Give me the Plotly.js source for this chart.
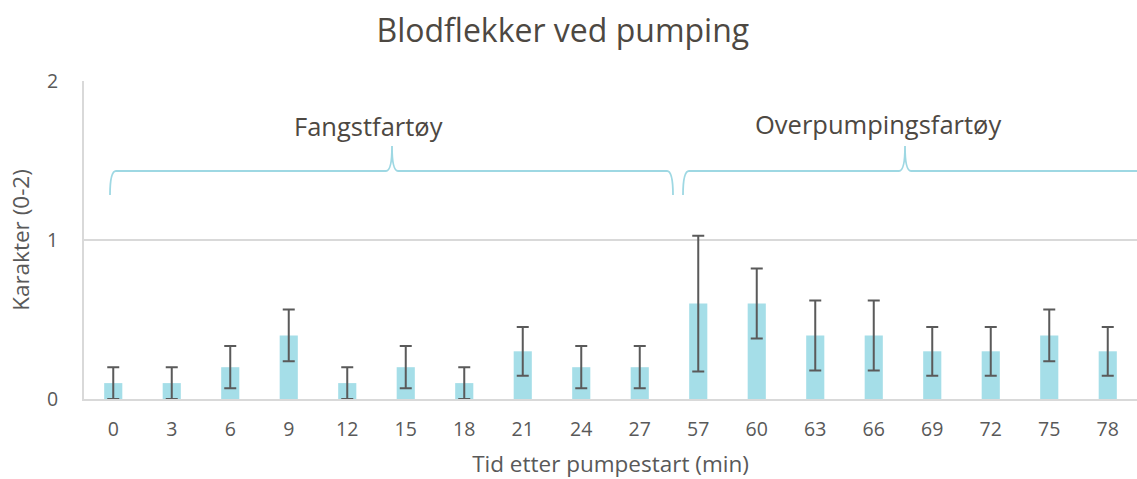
<!DOCTYPE html>
<html>
<head>
<meta charset="utf-8">
<script src="https://cdn.plot.ly/plotly-3.0.1.min.js"></script>
<style>html,body{margin:0;padding:0;background:#fff;}#chart{width:1137px;height:479px;}</style>
</head>
<body>
<div id="chart"></div>
<script>
const categories = ["0","3","6","9","12","15","18","21","24","27","57","60","63","66","69","72","75","78"];
const values = [0.1,0.1,0.2,0.4,0.1,0.2,0.1,0.3,0.2,0.2,0.6,0.6,0.4,0.4,0.3,0.3,0.4,0.3];
const errors = [0.1,0.1,0.133,0.163,0.1,0.133,0.1,0.153,0.133,0.133,0.427,0.22,0.22,0.22,0.153,0.153,0.163,0.153];
const groupLabels = ["Fangstfartøy","Overpumpingsfartøy"];

const W = 1137, H = 479, L = 84, R = 0, T = 81, B = 80;
const pw = W - L - R, ph = H - T - B;
const px = p => (p - L) / pw;            // pixel -> paper x
const py = p => 2 * (H - B - p) / ph;     // pixel -> data y

const braceColor = "#9ed8e3";
const font = "'Open Sans', sans-serif";

const trace = {
  type: "bar",
  x: categories,
  y: values,
  marker: {color: "#a5dee8"},
  error_y: {type: "data", array: errors, visible: true, color: "#5a5a5a", thickness: 2, width: 6},
  hoverinfo: "x+y"
};

function mkPath(x0, xm, x1) {
  const yEnd = 195, yLine = 171, yPeak = 146, r = 6;
  const P = (x, y) => px(x).toFixed(5) + "," + py(y).toFixed(5);
  return "M" + P(x0, yEnd) +
    " Q" + P(x0, yLine) + " " + P(x0 + r, yLine) +
    " L" + P(xm - r, yLine) +
    " Q" + P(xm, yLine) + " " + P(xm, yPeak) +
    " Q" + P(xm, yLine) + " " + P(xm + r, yLine) +
    " L" + P(x1 - r, yLine) +
    " Q" + P(x1, yLine) + " " + P(x1, yEnd);
}

const layout = {
  width: W, height: H,
  margin: {l: L, r: R, t: T, b: B},
  paper_bgcolor: "#fff", plot_bgcolor: "#fff",
  bargap: 0.69,
  showlegend: false,
  font: {family: font, color: "#595959", size: 19},
  title: {text: "Blodflekker ved pumping", x: 0.495, xanchor: "center", y: 0.935, yanchor: "middle",
          font: {family: font, size: 32, color: "#4d4842"}},
  xaxis: {
    type: "category", showgrid: false, showline: true, linecolor: "#d9d9d9", linewidth: 2,
    ticks: "", ticklabelstandoff: 12, tickfont: {size: 19.5, color: "#595959"},
    title: {text: "Tid etter pumpestart (min)", standoff: 16, font: {size: 22.5, color: "#595959"}},
    fixedrange: true
  },
  yaxis: {
    range: [0, 2], tickvals: [0, 1, 2], ticktext: ["0","1","2"],
    showgrid: true, gridcolor: "#d9d9d9", gridwidth: 2, zeroline: false,
    showline: true, linecolor: "#d9d9d9", linewidth: 2,
    ticks: "", ticklabelstandoff: 20, tickfont: {size: 19.5, color: "#595959"},
    title: {text: "Karakter (0-2)", standoff: 11, font: {size: 22.5, color: "#595959"}},
    fixedrange: true
  },
  shapes: [
    {type: "path", xref: "paper", yref: "y", path: mkPath(110, 392, 673), line: {color: braceColor, width: 1.8}},
    {type: "path", xref: "paper", yref: "y", path: mkPath(683, 905, 1400), line: {color: braceColor, width: 1.8}}
  ],
  annotations: [
    {xref: "paper", yref: "y", x: px(368), y: py(126), text: groupLabels[0], showarrow: false,
     font: {family: font, size: 25.5, color: "#4d4842"}, xanchor: "center", yanchor: "middle"},
    {xref: "paper", yref: "y", x: px(878), y: py(124), text: groupLabels[1], showarrow: false,
     font: {family: font, size: 25.5, color: "#4d4842"}, xanchor: "center", yanchor: "middle"}
  ]
};

Plotly.newPlot("chart", [trace], layout, {displayModeBar: false, staticPlot: true});
</script>
</body>
</html>
